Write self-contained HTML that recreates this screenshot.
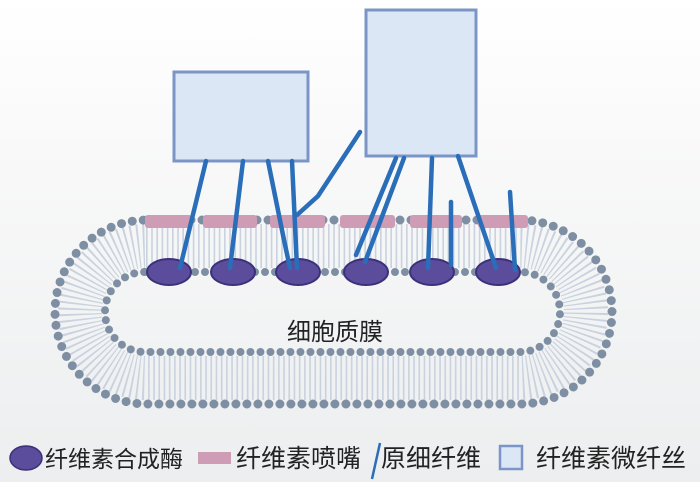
<!DOCTYPE html>
<html><head><meta charset="utf-8"><style>
body{margin:0;width:700px;height:482px;overflow:hidden;background:linear-gradient(#ffffff 0,#fafafa 120px,#eceeef 482px);}
svg{position:absolute;left:0;top:0}
text{font-family:"Liberation Sans","Noto Sans CJK SC",sans-serif;fill:#222}
</style></head><body>
<svg width="700" height="482" viewBox="0 0 700 482">
<path d="M146 246 H520 A66 66 0 0 1 520 378 H146 A66 66 0 0 1 146 246 Z" fill="none" stroke="#c9d2de" stroke-width="44" stroke-dasharray="1.6 3.6"/>
<path d="M147 220 H520 A92 92 0 0 1 520 404 H147 A92 92 0 0 1 147 220 Z" fill="none" stroke="#7f8fa3" stroke-width="9" stroke-linecap="round" stroke-dasharray="0 11"/>
<path d="M145 272 H520 A40 40 0 0 1 520 352 H145 A40 40 0 0 1 145 272 Z" fill="none" stroke="#7f8fa3" stroke-width="8" stroke-linecap="round" stroke-dasharray="0 10"/>
<g fill="#cf9cb5">
<rect x="145" y="215" width="47" height="13" rx="3"/>
<rect x="203" y="215" width="54" height="13" rx="3"/>
<rect x="270" y="215" width="55" height="13" rx="3"/>
<rect x="340" y="215" width="55" height="13" rx="3"/>
<rect x="410" y="215" width="52" height="13" rx="3"/>
<rect x="478" y="215" width="50" height="13" rx="3"/>
</g>
<rect x="174" y="72" width="134" height="89" fill="#dce7f5" stroke="#7b96c6" stroke-width="3"/>
<rect x="366" y="10" width="110" height="146" fill="#dce7f5" stroke="#7b96c6" stroke-width="3"/>
<g fill="#5b4c9c" stroke="#3b3079" stroke-width="2">
<ellipse cx="169" cy="272" rx="22" ry="13"/>
<ellipse cx="233" cy="272" rx="22" ry="13"/>
<ellipse cx="298" cy="272" rx="22" ry="13"/>
<ellipse cx="366" cy="272" rx="22" ry="13"/>
<ellipse cx="432" cy="272" rx="22" ry="13"/>
<ellipse cx="498" cy="272" rx="22" ry="13"/>
</g>
<g stroke="#2a6db8" stroke-width="4.5" fill="none" stroke-linecap="round">
<path d="M206 161 L180 268"/>
<path d="M243 161 L230 268"/>
<path d="M268 161 L284 240 L290 268"/>
<path d="M292 161 L297 268"/>
<path d="M297 215 L318 196 L360 132"/>
<path d="M404 158 L365 262"/>
<path d="M396 158 L356 255"/>
<path d="M432 158 L428 268"/>
<path d="M458 156 L496 268"/>
<path d="M451 202 L451 265"/>
<path d="M510 192 L515 270"/>
</g>
<text x="287" y="340" font-size="24">细胞质膜</text>
<ellipse cx="26" cy="458" rx="16" ry="12" fill="#5b4c9c" stroke="#3b3079" stroke-width="1.5"/>
<text x="45" y="467" font-size="23">纤维素合成酶</text>
<rect x="198" y="452" width="33" height="12" fill="#cf9cb5"/>
<text x="236" y="467" font-size="25">纤维素喷嘴</text>
<path d="M380 443 L372 479" stroke="#2a6db8" stroke-width="2.5"/>
<text x="381" y="467" font-size="25">原细纤维</text>
<rect x="500" y="446" width="22" height="23" fill="#dce7f5" stroke="#7b96c6" stroke-width="2.5"/>
<text x="536" y="467" font-size="25">纤维素微纤丝</text>
</svg>
</body></html>
